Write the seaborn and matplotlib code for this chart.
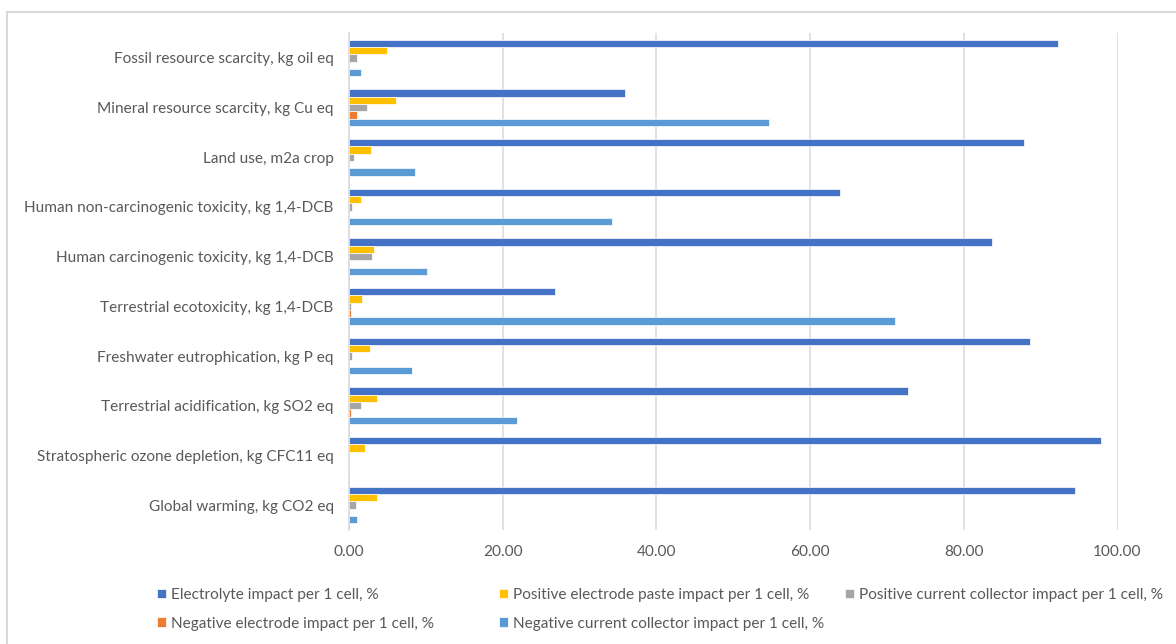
import matplotlib
matplotlib.use("Agg")
import matplotlib.pyplot as plt
from matplotlib.patches import Rectangle
from matplotlib.ticker import FormatStrFormatter, MultipleLocator
import numpy as np
import pandas as pd
import seaborn as sns

# Impact categories (top to bottom)
categories = [
    "Fossil resource scarcity, kg oil eq",
    "Mineral resource scarcity, kg Cu eq",
    "Land use, m2a crop",
    "Human non-carcinogenic toxicity, kg 1,4-DCB",
    "Human carcinogenic toxicity, kg 1,4-DCB",
    "Terrestrial ecotoxicity, kg 1,4-DCB",
    "Freshwater eutrophication, kg P eq",
    "Terrestrial acidification, kg SO2 eq",
    "Stratospheric ozone depletion, kg CFC11 eq",
    "Global warming, kg CO2 eq",
]

# Share of each cell component in the impact, %
electrolyte = [92.2, 35.9, 87.8, 63.9, 83.7, 26.8, 88.6, 72.7, 97.9, 94.5]
positive_paste = [5.0, 6.1, 2.9, 1.5, 3.3, 1.7, 2.7, 3.7, 2.1, 3.6]
positive_collector = [1.1, 2.4, 0.6, 0.4, 3.0, 0.2, 0.35, 1.5, 0.0, 0.85]
negative_electrode = [0.0, 1.1, 0.0, 0.0, 0.0, 0.2, 0.0, 0.2, 0.0, 0.0]
negative_collector = [1.6, 54.7, 8.6, 34.2, 10.1, 71.1, 8.2, 21.9, 0.0, 1.0]

series_names = [
    "Electrolyte impact per 1 cell, %",
    "Positive electrode paste impact per 1 cell, %",
    "Positive current collector impact per 1 cell, %",
    "Negative electrode impact per 1 cell, %",
    "Negative current collector impact per 1 cell, %",
]
series_values = [electrolyte, positive_paste, positive_collector,
                 negative_electrode, negative_collector]
colors = ["#4472C4", "#FFC000", "#A5A5A5", "#ED7D31", "#5B9BD5"]

rows = []
for name, vals in zip(series_names, series_values):
    for cat, v in zip(categories, vals):
        rows.append({"category": cat, "series": name, "value": v})
df = pd.DataFrame(rows)

sns.set_theme(style="white")
plt.rcParams["font.family"] = ["Lato", "DejaVu Sans"]
text_color = "#595959"
fs = 11.1

W, H = 1176, 644
fig = plt.figure(figsize=(W / 100, H / 100), dpi=100)
ax = fig.add_axes([349 / W, 1 - 530 / H, (1117.5 - 349) / W, (530 - 33) / H])

sns.barplot(
    data=df, y="category", x="value", hue="series",
    hue_order=series_names, order=categories,
    palette=colors, saturation=1, orient="h", width=0.735, gap=0,
    edgecolor="white", linewidth=0.5, ax=ax, legend=True,
)

handles, labels = ax.get_legend_handles_labels()
ax.get_legend().remove()

ax.set_xlim(0, 100)
ax.xaxis.set_major_locator(MultipleLocator(20))
ax.xaxis.set_major_formatter(FormatStrFormatter("%.2f"))
ax.set_xlabel("")
ax.set_ylabel("")
ax.grid(axis="x", color="#D9D9D9", linewidth=1.1)
ax.set_axisbelow(True)
for side in ["top", "right", "bottom"]:
    ax.spines[side].set_visible(False)
ax.spines["left"].set_color("#D9D9D9")
ax.spines["left"].set_linewidth(1.1)
ax.tick_params(axis="y", length=0, pad=11, labelsize=fs, labelcolor=text_color)
ax.tick_params(axis="x", length=0, pad=11, labelsize=fs, labelcolor=text_color)

# Legend laid out in three evenly spaced columns
columns = [[0, 3], [1, 4], [2]]
col_x = [157, 499, 845]
for idx, x in zip(columns, col_x):
    fig.legend(
        [handles[i] for i in idx], [labels[i] for i in idx],
        loc="upper left", bbox_to_anchor=(x / W, 1 - 588 / H),
        frameon=False, fontsize=fs, labelcolor=text_color,
        handlelength=0.6, handleheight=0.6, handletextpad=0.3,
        borderpad=0, borderaxespad=0, labelspacing=0.95,
    )

# Outer chart frame
fig.patches.append(Rectangle((7 / W, -0.05), 1.2, 1 - 12 / H + 0.05,
                             transform=fig.transFigure, fill=False,
                             edgecolor="#D9D9D9", linewidth=1.5))

fig.savefig("out.png", dpi=100, facecolor="white")
